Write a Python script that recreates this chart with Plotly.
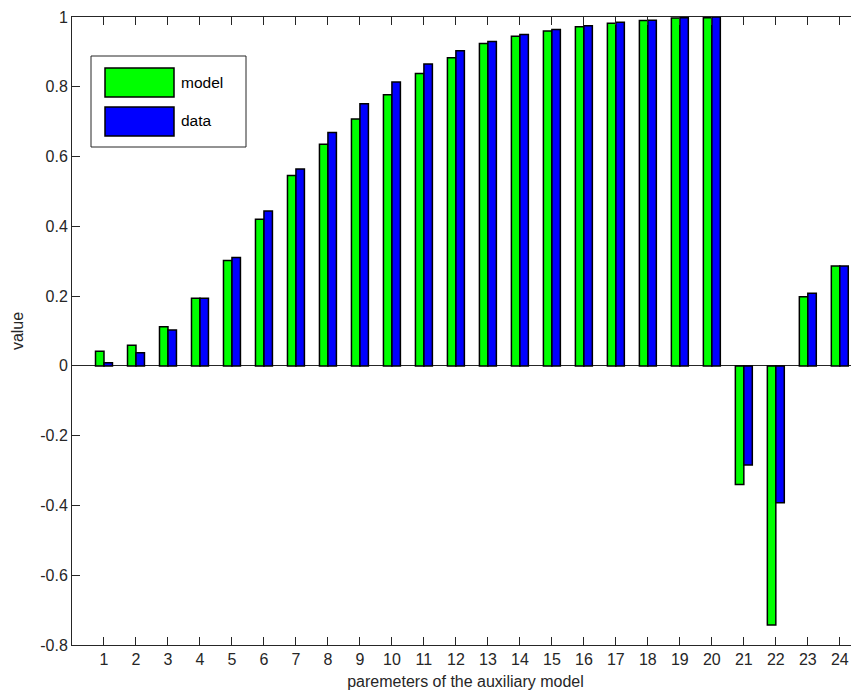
import plotly.graph_objects as go

params = list(range(1, 25))
model = [0.042, 0.059, 0.112, 0.194, 0.302, 0.420, 0.546, 0.635, 0.708, 0.777,
         0.838, 0.883, 0.924, 0.945, 0.960, 0.972, 0.982, 0.990, 0.997, 0.998,
         -0.340, -0.743, 0.198, 0.286]
data = [0.009, 0.038, 0.103, 0.194, 0.311, 0.444, 0.564, 0.669, 0.751, 0.814,
        0.865, 0.903, 0.930, 0.950, 0.964, 0.975, 0.985, 0.991, 0.998, 1.000,
        -0.284, -0.392, 0.208, 0.286]
ytick_vals = [-0.8, -0.6, -0.4, -0.2, 0, 0.2, 0.4, 0.6, 0.8, 1]
ytick_text = ["-0.8", "-0.6", "-0.4", "-0.2", "0", "0.2", "0.4", "0.6", "0.8", "1"]
series_names = ["model", "data"]
series_colors = ["#00ff00", "#0000ff"]

# page has an 8px body margin; compensate so the plot lands where the reference has it
OFF = 8
W, H = 859 - OFF, 693 - OFF
L, R, T, B = 72 - OFF, 0, 17 - OFF, 48
AX = "#262626"
FONT = "Liberation Sans, Arial, Helvetica, sans-serif"

fig = go.Figure()
for name, vals, col in zip(series_names, [model, data], series_colors):
    fig.add_trace(go.Bar(x=params, y=vals, name=name, marker_color=col,
                         marker_line_color="black", marker_line_width=1.5,
                         showlegend=False))

# manual legend (MATLAB-style large swatches); page-pixel positions
pw, ph = W - L - R, H - T - B
def px(x):
    return (x - OFF - L) / pw
def py(y):
    return 1 - (y - OFF - T) / ph

shapes = [dict(type="rect", xref="paper", yref="paper",
               x0=px(91), x1=px(246), y0=py(147), y1=py(56),
               line=dict(color=AX, width=1), fillcolor="white")]
annotations = []
for i, (name, col) in enumerate(zip(series_names, series_colors)):
    y0 = 68 + i * 39
    shapes.append(dict(type="rect", xref="paper", yref="paper",
                       x0=px(105), x1=px(174), y0=py(y0 + 29), y1=py(y0),
                       line=dict(color="black", width=1.5), fillcolor=col))
    annotations.append(dict(xref="paper", yref="paper", x=px(179), y=py(y0 + 14),
                            text=name, showarrow=False, xanchor="left", yanchor="middle",
                            font=dict(family=FONT, size=15.5, color="black")))

fig.update_layout(
    width=W, height=H,
    margin=dict(l=L, r=R, t=T, b=B, autoexpand=False),
    paper_bgcolor="white", plot_bgcolor="white",
    barmode="group", bargap=0.47, bargroupgap=0,
    shapes=shapes, annotations=annotations,
    font=dict(family=FONT, size=16, color=AX),
    xaxis=dict(range=[0, 24.6], tickvals=params, ticktext=[str(p) for p in params],
               ticks="inside", ticklen=8, tickcolor=AX, showline=True, linecolor=AX,
               linewidth=1, mirror="allticks", showgrid=False, zeroline=False,
               automargin=False,
               title=dict(text="paremeters of the auxiliary model",
                          font=dict(size=16, color=AX), standoff=8),
               tickfont=dict(size=16, color=AX)),
    yaxis=dict(range=[-0.8, 1], tickvals=ytick_vals, ticktext=ytick_text,
               ticks="inside", ticklen=8, tickcolor=AX, showline=True, linecolor=AX,
               linewidth=1, showgrid=False, zeroline=True, zerolinecolor=AX,
               zerolinewidth=1, automargin=False,
               title=dict(text="value", font=dict(size=16, color=AX), standoff=12),
               tickfont=dict(size=16, color=AX)),
)

fig.write_html("out.html")
